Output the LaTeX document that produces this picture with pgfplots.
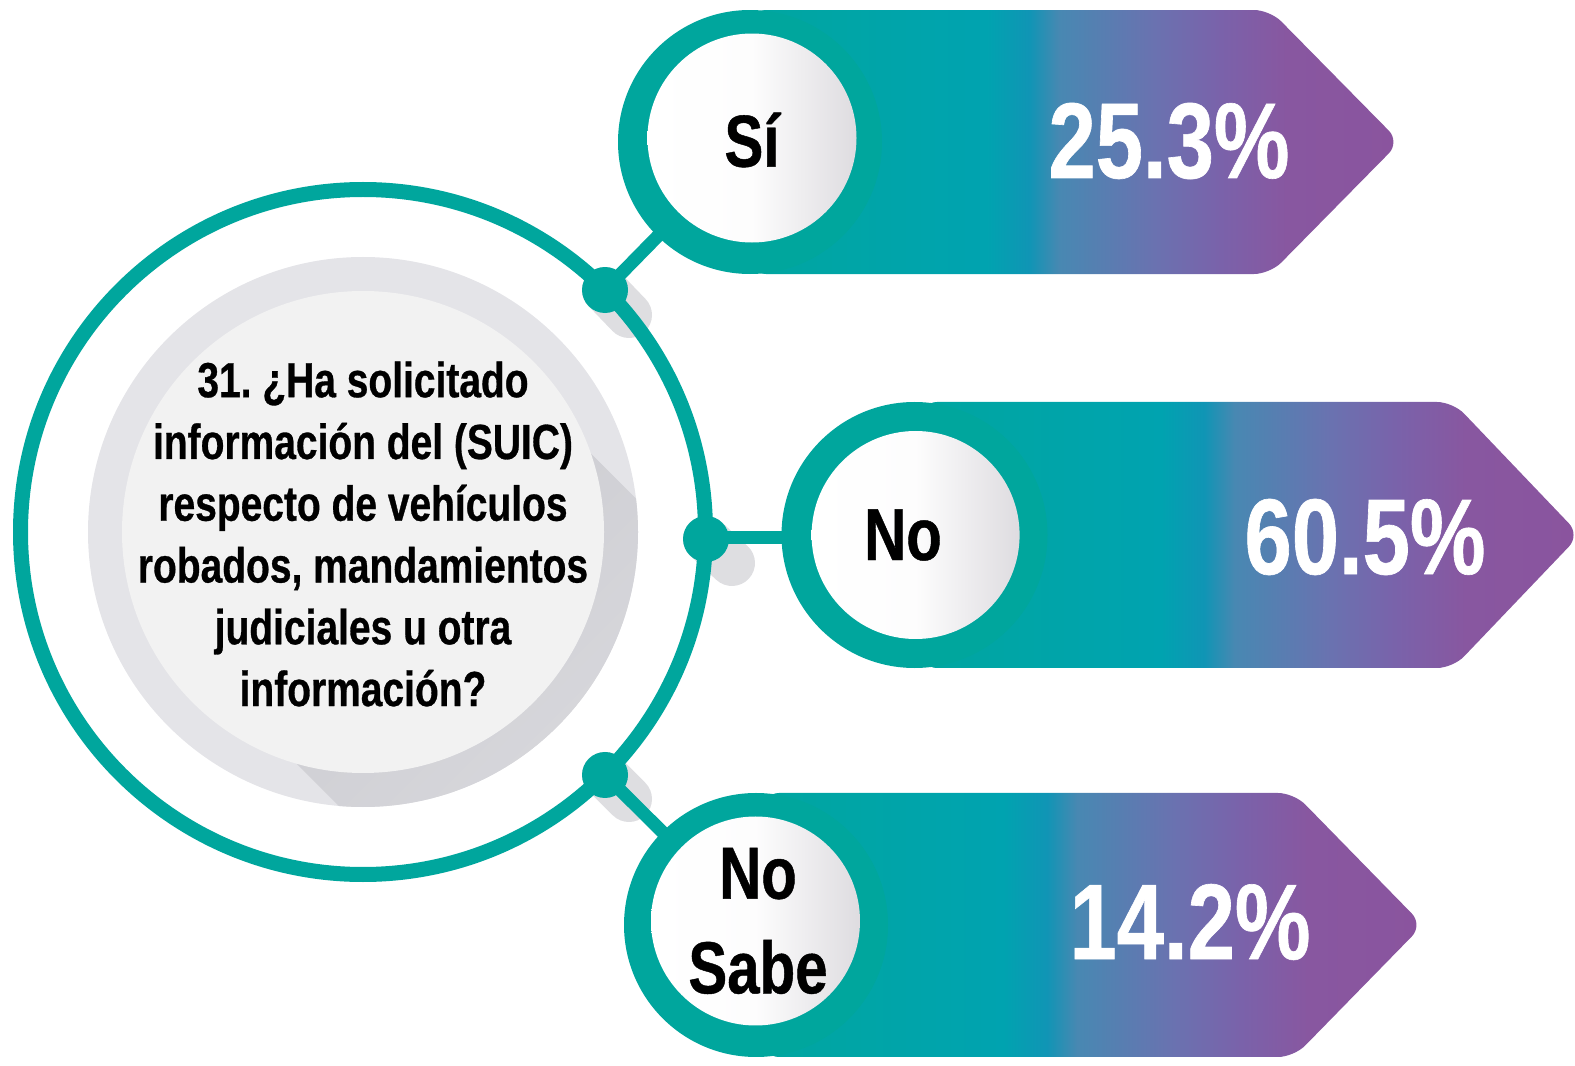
\documentclass[border=0pt]{standalone}
\usepackage{fontspec}
\setmainfont{Liberation Sans}[FakeStretch=0.79, BoldFeatures={FakeBold=0.6}]
\usepackage{pgfplots}
\usepackage{pgfplotstable}
\pgfplotsset{compat=1.18}
\frenchspacing
\definecolor{tealA}{RGB}{0,166,157}
\definecolor{g0}{RGB}{0,166,160}
\definecolor{g1}{RGB}{0,163,176}
\definecolor{g2}{RGB}{16,149,181}
\definecolor{g3}{RGB}{72,136,178}
\definecolor{g4}{RGB}{106,114,176}
\definecolor{g5}{RGB}{122,98,170}
\definecolor{g6}{RGB}{136,87,160}
\definecolor{g7}{RGB}{138,84,158}
\definecolor{discout}{RGB}{228,228,232}
\definecolor{shadowdark}{RGB}{205,205,210}
\definecolor{shadowlight}{RGB}{226,226,230}
\definecolor{discin}{RGB}{242,242,242}
\definecolor{dotshadow}{RGB}{222,222,225}
\definecolor{wgray}{RGB}{222,220,224}
\pgfdeclarehorizontalshading{banner}{100bp}{color(0bp)=(g0); color(25bp)=(g0); color(43.2bp)=(g1); color(46.5bp)=(g2); color(48.8bp)=(g3); color(56.1bp)=(g4); color(61.2bp)=(g5); color(66.3bp)=(g6); color(75bp)=(g7); color(100bp)=(g7)}
\pgfplotstableread[col sep=comma]{
lx,ly,label,vx,vy,value
752,140,Sí,1169,141,25.3
903,535,No,1365,537,60.5
758,921,No Sabe,1190,922,14.2
}\data
\begin{document}
\begin{tikzpicture}
\begin{axis}[width=1575bp, height=1066bp, scale only axis,
  xmin=0, xmax=1575, ymin=0, ymax=1066, y dir=reverse,
  hide axis, clip=false]
\path (axis cs:0,0) rectangle (axis cs:1575,1066);
% central disc with long shadow
\fill[discout] (axis cs:363,532) circle[radius=275bp];
\begin{scope}
\clip (axis cs:363,532) circle[radius=275bp];
\shade[top color=shadowdark, bottom color=shadowlight, shading angle=45] (axis cs:590.9,453.5) -- (axis cs:890.9,753.5) -- (axis cs:596.6,1063.7) -- (axis cs:296.6,763.7) -- cycle;
\end{scope}
\fill[discin] (axis cs:363,532) circle[radius=241bp];
% dot shadows
\draw[dotshadow, line width=46bp, line cap=round] (axis cs:605,290) -- (axis cs:629,315);
\draw[dotshadow, line width=46bp, line cap=round] (axis cs:706,539) -- (axis cs:732,563);
\draw[dotshadow, line width=46bp, line cap=round] (axis cs:605,775) -- (axis cs:629,799);
% ring
\draw[tealA, line width=15bp] (axis cs:363,532) circle[radius=342.5bp];
% connectors
\draw[tealA, line width=13bp] (axis cs:605,290) -- (axis cs:750,142);
\draw[tealA, line width=13bp] (axis cs:706,538) -- (axis cs:914,538);
\draw[tealA, line width=13bp] (axis cs:605,775) -- (axis cs:756,925);
% dots
\fill[tealA] (axis cs:605,290) circle[radius=23bp];
\fill[tealA] (axis cs:706,539) circle[radius=23bp];
\fill[tealA] (axis cs:605,775) circle[radius=23bp];
% banners
\shade[shading=banner, rounded corners=16bp] (axis cs:750,10) -- (axis cs:1270,10) -- (axis cs:1400,142) -- (axis cs:1270,274) -- (axis cs:750,274) -- cycle;
\shade[shading=banner, rounded corners=16bp] (axis cs:921,402) -- (axis cs:1453,402) -- (axis cs:1580,535) -- (axis cs:1453,668) -- (axis cs:921,668) -- cycle;
\shade[shading=banner, rounded corners=16bp] (axis cs:763,793) -- (axis cs:1294,793) -- (axis cs:1423,925) -- (axis cs:1294,1057) -- (axis cs:763,1057) -- cycle;
% banner circles
\fill[tealA] (axis cs:750,142) circle[radius=132bp];
\fill[tealA] (axis cs:914.5,535) circle[radius=133bp];
\fill[tealA] (axis cs:756,925) circle[radius=132bp];
\shade[left color=white, right color=wgray, middle color=white!94!wgray] (axis cs:752,138) circle[radius=104.5bp];
\shade[left color=white, right color=wgray, middle color=white!94!wgray] (axis cs:915.6,535) circle[radius=104bp];
\shade[left color=white, right color=wgray, middle color=white!94!wgray] (axis cs:755.5,921) circle[radius=104.5bp];
% question
\node[align=center, text=black, font=\bfseries\fontsize{49.5}{62}\selectfont] at (axis cs:363,534) {31. ¿Ha solicitado\\información del (SUIC)\\respecto de vehículos\\robados, mandamientos\\judiciales u otra\\información?};
% category labels
\addplot[only marks, mark=none, point meta=explicit symbolic,
  nodes near coords={\pgfplotspointmeta},
  nodes near coords style={anchor=center, text=black, align=center, text width=170bp, font=\bfseries\fontsize{74}{95}\selectfont}]
  table[x=lx, y=ly, meta=label] {\data};
% values
\addplot[only marks, mark=none, point meta=explicit symbolic,
  nodes near coords={\pgfplotspointmeta\%},
  nodes near coords style={anchor=center, text=white, font=\bfseries\fontsize{108}{108}\selectfont}]
  table[x=vx, y=vy, meta=value] {\data};
\end{axis}
\pgfresetboundingbox
\path (current axis.south west) rectangle (current axis.north east);
\end{tikzpicture}
\end{document}
